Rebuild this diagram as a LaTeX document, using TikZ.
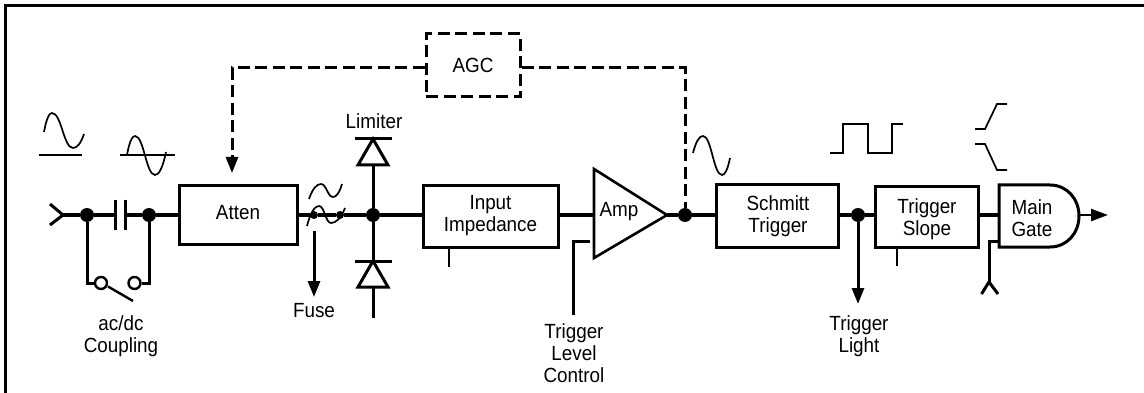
\documentclass[tikz,border=0pt]{standalone}
\usepackage{fontspec}
\setmainfont[FakeStretch=0.92]{Liberation Sans}
\usetikzlibrary{arrows.meta}
\newcommand{\sigwave}[8]{%
  \draw[wave] (#1,#2) .. controls ({#1+0.3*(#3-#1)},{#2+0.7*(#4-#2)}) and ({#3-0.35*(#3-#1)},#4) .. (#3,#4)
   .. controls ({#3+0.45*(#5-#3)},#4) and ({#5-0.45*(#5-#3)},#6) .. (#5,#6)
   .. controls ({#5+0.35*(#7-#5)},#6) and ({#7-0.3*(#7-#5)},{#8+0.7*(#6-#8)}) .. (#7,#8);}
\tikzset{
  x=1pt,y=-1pt,
  wire/.style={line width=3pt,line cap=butt,line join=miter},
  wave/.style={line width=1.7pt},
  thinwire/.style={line width=1.6pt},
  dashwire/.style={line width=3pt,dash pattern=on 12pt off 5.5pt},
  blockbox/.style={draw,line width=3pt,inner sep=0pt,align=center,fill=none},
  label/.style={inner sep=0pt,align=center,font=\fontsize{20.5}{22}\selectfont},
  jdot/.style={circle,fill=black,inner sep=0pt,minimum size=14pt},
  smalldot/.style={circle,fill=black,inner sep=0pt,minimum size=8pt},
  contact/.style={circle,draw,fill=white,line width=2.4pt,inner sep=0pt,minimum size=12pt},
  arrowwire/.style={wire,-{Triangle[length=16pt,width=12pt]}},
}
\begin{document}
\begin{tikzpicture}
\useasboundingbox (0,0) rectangle (1144,393);
\fill[white] (0,0) rectangle (1144,393);
\coordinate (main) at (0,215);
% frame
\coordinate (fa) at (5,393);
\coordinate (fb) at (5,6);
\coordinate (fc) at (1144,6);
\draw[line width=3pt] (fa) -- (fb) -- (fc);
% blocks
\node[blockbox,dashwire,minimum width=94pt,minimum height=63pt] (agc) at (473,65.5) {};
\node[label] (agct) at (473,65) {AGC};
\node[blockbox,minimum width=118pt,minimum height=58pt] (atten) at (238,215) {};
\node[label] (attent) at (238,213) {Atten};
\node[blockbox,minimum width=135pt,minimum height=61pt] (imp) at (490.5,216.5) {};
\node[label] (impt) at (490.5,215.5) {Input\\Impedance};
\node[blockbox,minimum width=122pt,minimum height=62pt] (sch) at (777,216) {};
\node[label] (scht) at (778,216) {Schmitt\\Trigger};
\node[blockbox,minimum width=103pt,minimum height=60pt] (slope) at (926.5,217) {};
\node[label] (slopet) at (927,219) {Trigger\\Slope};
% amp
\coordinate (ampa) at (594,169);
\coordinate (ampb) at (594,258);
\coordinate (ampc) at (667,215);
\draw[wire,line width=2.6pt] (ampa) -- (ampc) -- (ampb) -- cycle;
\node[label] (ampt) at (619,212) {Amp};
% main gate
\coordinate (ga) at (999,185);
\coordinate (gb) at (1050,185);
\coordinate (gc) at (1079,216);
\coordinate (gd) at (1050,247);
\coordinate (ge) at (999,247);
\draw[wire] (gb) -- (ga) -- (ge) -- (gd) .. controls (1067,247) and (1079,233) .. (gc) .. controls (1079,199) and (1067,185) .. (gb) -- cycle;
\node[label] (gatet) at (1032,218) {Main\\Gate};
% AGC loop
\node[jdot] (j4) at (685,215) {};
\coordinate (dl) at (232,68);
\coordinate (dr) at (685,68);
\coordinate (atip) at (232,173);
\draw[dashwire,-{Triangle[length=16pt,width=12pt]}] (agc.west |- dl) -- (dl) -- (atip);
\draw[dashwire] (agc.east |- dr) -- (dr) -- (j4);
% input chain
\coordinate (ci) at (63,215);
\coordinate (cia) at (50,204);
\coordinate (cib) at (50,225);
\node[jdot] (j1) at (87,215) {};
\node[jdot] (j2) at (149,215) {};
\coordinate (p1t) at (115,215);
\coordinate (p2t) at (125,215);
\coordinate (p1a) at (115,200);
\coordinate (p1b) at (115,230);
\coordinate (p2a) at (125,200);
\coordinate (p2b) at (125,230);
\draw[wire] (cia) -- (ci) -- (cib);
\draw[wire] (ci) -- (j1) -- (p1t);
\draw[wire] (p1a) -- (p1b);
\draw[wire] (p2a) -- (p2b);
\draw[wire] (p2t) -- (j2) -- (atten.west |- main);
% switch
\node[contact] (s1) at (101,283) {};
\node[contact] (s2) at (134.5,283) {};
\coordinate (s1c) at (87,283);
\coordinate (s2c) at (149,283);
\coordinate (bladeend) at (133,301);
\coordinate (bladestart) at (108,286.5);
\draw[wire] (j1) -- (s1c) -- (s1);
\draw[wire] (j2) -- (s2c) -- (s2);
\draw[wire,line width=2.4pt] (bladestart) -- (bladeend);
\node[label] (coup) at (121,336) {ac/dc\\Coupling};
% fuse
\node[jdot] (j3) at (373,215) {};
\node[smalldot] (f1) at (314,215) {};
\node[smalldot] (f2) at (340,215) {};
\draw[wire] (atten.east |- main) -- (f1) -- (f2) -- (j3);
\sigwave{307}{226}{319}{206}{331}{223}{345}{208}
\sigwave{309}{199}{321}{184}{333}{197}{342}{184}
\coordinate (fusetop) at (314,231);
\coordinate (fusetip) at (314,297);
\draw[arrowwire] (fusetop) -- (fusetip);
\node[label] (fuse) at (314,311) {Fuse};
% limiter
\coordinate (d1a) at (373,139);
\coordinate (d1l) at (358,165);
\coordinate (d1r) at (388,165);
\coordinate (d1m) at (373,165);
\coordinate (b1l) at (355,139);
\coordinate (b1r) at (392,139);
\coordinate (d2a) at (373,261);
\coordinate (d2l) at (358,287);
\coordinate (d2r) at (388,287);
\coordinate (d2m) at (373,287);
\coordinate (b2l) at (355,261);
\coordinate (b2r) at (392,261);
\coordinate (d2e) at (373,318);
\draw[wire] (b1l) -- (b1r);
\draw[wire] (d1a) -- (d1r) -- (d1l) -- cycle;
\draw[wire] (b2l) -- (b2r);
\draw[wire] (d2a) -- (d2r) -- (d2l) -- cycle;
\draw[wire] (d1m) -- (j3) -- (d2a);
\draw[wire] (d2m) -- (d2e);
\node[label] (lim) at (374,121) {Limiter};
% chain right
\draw[wire] (j3) -- (imp.west |- main);
\draw[wire] (imp.east |- main) -- (ampa |- main);
\draw[wire] (ampc) -- (j4) -- (sch.west |- main);
\node[jdot] (j5) at (858,215) {};
\draw[wire] (sch.east |- main) -- (j5) -- (slope.west |- main);
\draw[wire] (slope.east |- main) -- (ga |- main);
% ticks
\coordinate (t1) at (449,267);
\coordinate (t2) at (897,266);
\draw[thinwire] (imp.south -| t1) -- (t1);
\draw[thinwire] (slope.south -| t2) -- (t2);
% trigger level
\coordinate (tl1) at (590,241);
\coordinate (tl2) at (573,241);
\coordinate (tl3) at (573,315);
\draw[wire] (tl1) -- (tl2) -- (tl3);
\node[label] (tlc) at (574,353.5) {Trigger\\Level\\Control};
% trigger light
\coordinate (tltip) at (858,304);
\draw[arrowwire] (j5) -- (tltip);
\node[label] (tll) at (859,336) {Trigger\\Light};
% gate input
\coordinate (gi1) at (999,241);
\coordinate (gi2) at (989,241);
\coordinate (gi3) at (989,282);
\coordinate (gi4) at (981.5,294);
\coordinate (gi5) at (998,294);
\draw[wire] (gi1) -- (gi2) -- (gi3);
\draw[wire] (gi4) -- (gi3) -- (gi5);
% output
\coordinate (outtip) at (1108,215);
\draw[wire,-{Triangle[length=17pt,width=12pt]},line width=2.4pt] (gc |- main) -- (outtip);
% wave symbols
\coordinate (w1a) at (39,155);
\coordinate (w1b) at (82,155);
\coordinate (w2a) at (120,155);
\coordinate (w2b) at (174.5,155);
\draw[wave] (w1a) -- (w1b);
\draw[wave] (w2a) -- (w2b);
\sigwave{44}{132}{52}{113}{73}{148}{84}{134}
\sigwave{127}{155}{135}{136}{155}{175}{166}{152}
\sigwave{693}{153}{703}{136}{722}{175}{730}{158}
\coordinate (q1) at (830,153);
\coordinate (q2) at (843,153);
\coordinate (q3) at (843,124);
\coordinate (q4) at (868,124);
\coordinate (q5) at (868,153);
\coordinate (q6) at (892,153);
\coordinate (q7) at (892,124);
\coordinate (q8) at (903,124);
\draw[wave] (q1) -- (q2) -- (q3) -- (q4) -- (q5) -- (q6) -- (q7) -- (q8);
\coordinate (r1) at (975,129);
\coordinate (r2) at (985,129);
\coordinate (r3) at (997,104);
\coordinate (r4) at (1007,104);
\draw[wave] (r1) -- (r2) -- (r3) -- (r4);
\coordinate (g1) at (975,144);
\coordinate (g2) at (985,144);
\coordinate (g3) at (997,170);
\coordinate (g4) at (1007,170);
\draw[wave] (g1) -- (g2) -- (g3) -- (g4);
\end{tikzpicture}
\end{document}
